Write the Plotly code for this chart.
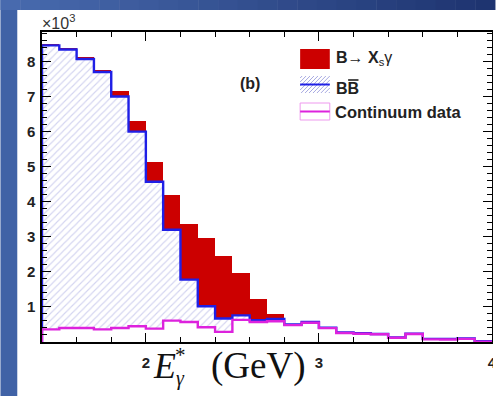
import plotly.graph_objects as go

# Photon energy bins (GeV), lower edges, bin width 0.1
bin_width = 0.1
bin_lo = [round(1.4 + bin_width * i, 1) for i in range(26)]

# Stacked components (events per bin)
continuum = [360, 400, 400, 360, 400, 450, 380, 610, 570, 420, 290, 630, 570,
             590, 480, 550, 395, 255, 235, 220, 120, 228, 75, 70, 90, 12]
bbbar = [8100, 7940, 7670, 7340, 6600, 5550, 4190, 2590, 1210, 600, 380, 130, 50,
         70, 20, 20, 15, 15, 15, 10, 10, 12, 15, 20, 10, 8]
xsgamma = [10, 30, 40, 70, 170, 290, 570, 990, 1580, 1940, 1770, 1210, 610,
           130, 0, 0, 0, 0, 0, 0, 0, 0, 0, 0, 0, 0]

y_ticks = [1000, 2000, 3000, 4000, 5000, 6000, 7000, 8000]
y_ticktext = ["1", "2", "3", "4", "5", "6", "7", "8"]
x_ticks = [2, 3, 4]
x_ticktext = ["2", "3", "4"]

centers = [lo + bin_width / 2 for lo in bin_lo]
bb_top = [c + b for c, b in zip(continuum, bbbar)]

RED = "#cc0000"
BLUE = "#1f1fe6"
MAGENTA = "#dd22dd"
HATCH = "#a8aae2"

fig = go.Figure()
fig.add_trace(go.Bar(x=centers, y=continuum, width=bin_width,
                     marker=dict(color="white", line_width=0), showlegend=False))
fig.add_trace(go.Bar(x=centers, y=bbbar, width=bin_width,
                     marker=dict(color="white", line_width=0,
                                 pattern=dict(shape="/", fgcolor=HATCH, bgcolor="white",
                                              size=5, solidity=0.22)),
                     showlegend=False))
fig.add_trace(go.Bar(x=centers, y=xsgamma, width=bin_width,
                     marker=dict(color=RED, line_width=0), showlegend=False))


def step(values):
    xs = [bin_lo[0]] + bin_lo + [bin_lo[-1] + bin_width, bin_lo[-1] + bin_width]
    ys = [0] + values + [values[-1], 0]
    return xs, ys


sx, sy = step(bb_top)
fig.add_trace(go.Scatter(x=sx, y=sy, mode="lines", line=dict(color=BLUE, width=2.4, shape="hv"),
                         showlegend=False))
sx, sy = step(continuum)
fig.add_trace(go.Scatter(x=sx, y=sy, mode="lines", line=dict(color=MAGENTA, width=2.4, shape="hv"),
                         showlegend=False))

# page geometry helpers (pixels -> paper coordinates)
L, T, W, H = 42, 32, 455, 310


def px(x):
    return (x - L) / W


def py(y):
    return (T + H - y) / H


shapes = []
# slide background: blue strip on the left and a darker gradient band on top
shapes.append(dict(type="rect", xref="paper", yref="paper", layer="below",
                   x0=px(0), x1=px(17), y0=py(396), y1=py(0),
                   fillcolor="rgb(64,98,166)", line_width=0))
n = 25
c0 = (72, 106, 174)
c1 = (30, 52, 112)
for i in range(n):
    t = i / (n - 1)
    col = "rgb(%d,%d,%d)" % tuple(round(a + (b - a) * t) for a, b in zip(c0, c1))
    shapes.append(dict(type="rect", xref="paper", yref="paper", layer="below",
                       x0=px(500 * i / n), x1=px(500 * (i + 1) / n + 0.5), y0=py(10), y1=py(0),
                       fillcolor=col, line_width=0))
# white page margin to the right of the frame
shapes.append(dict(type="rect", xref="paper", yref="paper", layer="above",
                   x0=px(498), x1=px(510), y0=py(400), y1=py(10),
                   fillcolor="white", line_width=0))

# legend swatches
shapes.append(dict(type="rect", xref="paper", yref="paper",
                   x0=px(303), x1=px(333), y0=py(69), y1=py(49),
                   fillcolor=RED, line_width=0))
bx0, bx1, by0, by1 = 303, 333, 76, 93
for s in range(bx0 + by0 + 2, bx1 + by1, 4):
    xa = max(bx0, s - by1)
    xb = min(bx1, s - by0)
    shapes.append(dict(type="line", xref="paper", yref="paper",
                       x0=px(xa), y0=py(s - xa), x1=px(xb), y1=py(s - xb),
                       line=dict(color=HATCH, width=1)))
shapes.append(dict(type="line", xref="paper", yref="paper",
                   x0=px(303), x1=px(333), y0=py(84.5), y1=py(84.5),
                   line=dict(color=BLUE, width=2)))
shapes.append(dict(type="rect", xref="paper", yref="paper",
                   x0=px(303), x1=px(333), y0=py(120), y1=py(103),
                   fillcolor="white", line=dict(color="#ee99ee", width=1)))
shapes.append(dict(type="line", xref="paper", yref="paper",
                   x0=px(303), x1=px(333), y0=py(111.5), y1=py(111.5),
                   line=dict(color=MAGENTA, width=2)))
# bar over the second B
shapes.append(dict(type="line", xref="paper", yref="paper",
                   x0=px(351.5), x1=px(362), y0=py(80), y1=py(80),
                   line=dict(color="#222222", width=1.6)))

sans = "Liberation Sans, Arial, sans-serif"
serif = "Liberation Serif, Times New Roman, serif"
annotations = []


def note(text, x, y, size, family=sans, xanchor="left", color="#222222"):
    annotations.append(dict(text=text, x=px(x), y=py(y), xref="paper", yref="paper",
                            xanchor=xanchor, yanchor="middle", showarrow=False,
                            font=dict(family=family, size=size, color=color)))


note("<b>B</b>\u2192 <b>X</b><sub>s</sub>\u03b3", 337, 58, 16)
note("<b>BB</b>", 337, 88, 16)
note("<b>Continuum data</b>", 336, 112, 16.5)
note("<b>(b)</b>", 252, 83, 16, xanchor="center")
note("\u00d710<sup>3</sup>", 40, 22, 16, color="#333333")
# axis title  E*_gamma (GeV)
note("<i>E</i>", 166, 366, 36, family=serif, xanchor="center", color="#111111")
note("*", 182, 355, 21, family=serif, xanchor="center", color="#111111")
note("<i>\u03b3</i>", 182, 378, 20, family=serif, xanchor="center", color="#111111")
note("(GeV)", 261, 366, 37, family=serif, xanchor="center", color="#111111")

axis_common = dict(showline=True, mirror="allticks", linecolor="black", linewidth=1.5,
                   ticks="inside", tickwidth=1.3, ticklen=9, tickcolor="black",
                   showgrid=False, zeroline=False,
                   tickfont=dict(family=sans, size=15, color="#222222", weight="bold"))

fig.update_layout(
    width=500, height=396, autosize=False,
    margin=dict(l=L, r=500 - L - W, t=T, b=396 - T - H),
    paper_bgcolor="white", plot_bgcolor="white",
    barmode="stack", bargap=0, showlegend=False,
    xaxis=dict(range=[1.4, 4.0], tickmode="array", tickvals=x_ticks, ticktext=x_ticktext,
               minor=dict(tick0=0, dtick=0.2, ticklen=5, ticks="inside", tickcolor="black"),
               ticklabelstandoff=6, **axis_common),
    yaxis=dict(range=[0, 8840], tickmode="array", tickvals=y_ticks, ticktext=y_ticktext,
               minor=dict(tick0=0, dtick=200, ticklen=5, ticks="inside", tickcolor="black"),
               ticklabelstandoff=2, **axis_common),
    shapes=shapes, annotations=annotations,
)

fig.write_html("out.html")
